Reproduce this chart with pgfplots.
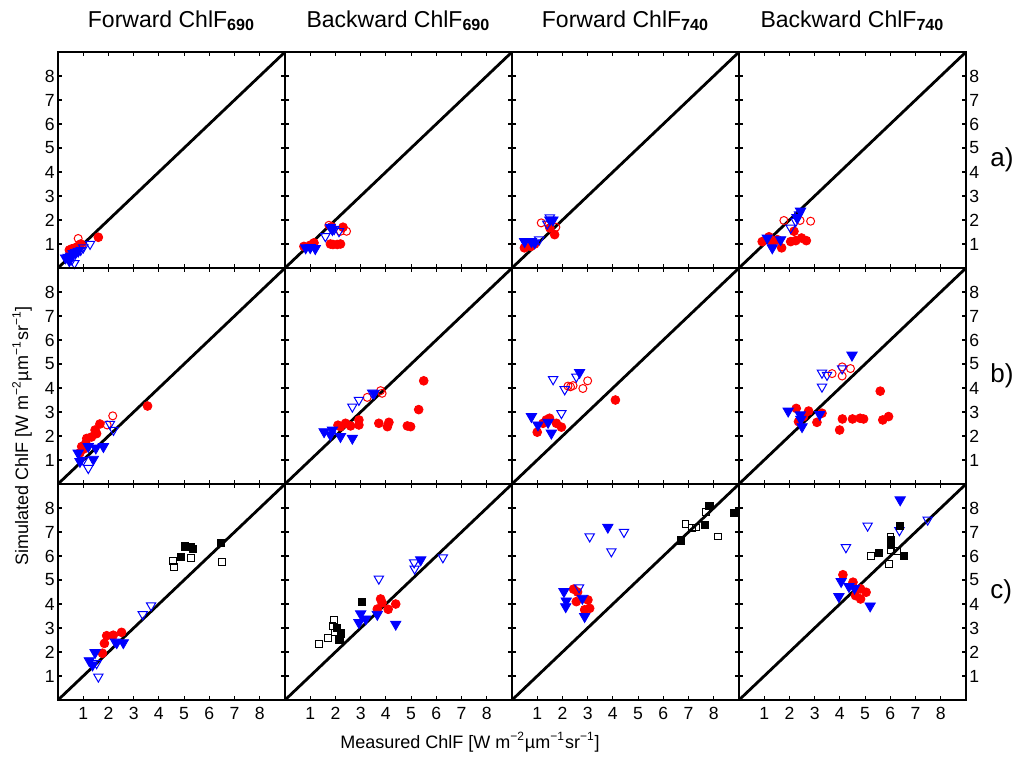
\documentclass[border=0pt]{standalone}
\usepackage{fontspec}
\setmainfont{Liberation Sans}
\usepackage{pgfplots}
\pgfplotsset{compat=1.18}
\usepgfplotslibrary{groupplots}

\pgfplotsset{
  panel/.style={
    scale only axis, width=113.5pt, height=108pt,
    xmin=0, xmax=9, ymin=0, ymax=9,
    xtick={1,...,8}, ytick={1,...,8},
    tick align=inside, major tick length=2pt,
    axis line style={line width=0.9pt},
    every tick/.style={black, line width=0.6pt},
    ticklabel style={font=\fontsize{8.8}{10}\selectfont},
    yticklabel style={inner sep=1.5pt},
    /pgf/number format/assume math mode=true,
    title style={font=\fontsize{11.5}{13}\selectfont, yshift=1pt},
  },
  noy/.style={yticklabels={}},
  righty/.style={yticklabel pos=right},
  diag/.style={black, line width=1.4pt, forget plot},
  rf/.style={only marks, red, mark=*, mark size=2.2pt, mark options={fill=red}},
  ro/.style={only marks, red, mark=o, mark size=2pt, mark options={line width=0.5pt}},
  bf/.style={only marks, blue, mark=triangle*, mark size=3pt, mark options={rotate=180, fill=blue}},
  bo/.style={only marks, blue, mark=triangle, mark size=2.7pt, mark options={rotate=180, line width=0.5pt}},
  kf/.style={only marks, black, mark=square*, mark size=1.8pt, mark options={fill=black}},
  ko/.style={only marks, black, mark=square, mark size=1.7pt, mark options={line width=0.5pt}},
}

\newcommand{\sub}[1]{\textsubscript{\textbf{#1}}}
\newcommand{\unitstr}{[W m\textsuperscript{−2}µm\textsuperscript{−1}sr\textsuperscript{−1}]}

\begin{document}
\begin{tikzpicture}
\begin{groupplot}[
  group style={group size=4 by 3, horizontal sep=0pt, vertical sep=0pt,
    xticklabels at=edge bottom},
  panel,
]
% ---- row a ----
\nextgroupplot[title={Forward ChlF\sub{690}}]
\addplot[diag] coordinates {(0,0) (9,9)};
\addplot[rf] coordinates {(0.45,0.75) (0.55,0.8) (0.7,0.85) (0.8,0.9) (0.9,1.0) (0.75,0.7) (0.6,0.65) (0.85,0.95) (1.6,1.28)};
\addplot[ro] coordinates {(0.8,1.23) (0.95,0.95)};
\addplot[bf] coordinates {(0.3,0.42) (0.4,0.45) (0.5,0.5) (0.6,0.6) (0.7,0.65) (0.45,0.3) (0.8,0.7)};
\addplot[bo] coordinates {(1.27,1.0) (0.65,0.2) (0.9,0.75) (0.55,0.35) (1.0,0.85)};

\nextgroupplot[title={Backward ChlF\sub{690}}, noy]
\addplot[diag] coordinates {(0,0) (9,9)};
\addplot[rf] coordinates {(0.75,0.9) (1.0,0.95) (1.15,1.05) (1.8,1.0) (1.9,0.98) (2.07,0.98) (2.2,1.0) (2.3,1.7) (1.85,1.72)};
\addplot[ro] coordinates {(1.74,1.78) (2.44,1.53) (2.2,1.53)};
\addplot[bf] coordinates {(0.82,0.84) (1.0,0.85) (1.2,0.81) (1.88,1.6) (1.8,1.7)};
\addplot[bo] coordinates {(1.6,1.32) (2.14,1.53) (1.95,1.62)};

\nextgroupplot[title={Forward ChlF\sub{740}}, noy]
\addplot[diag] coordinates {(0,0) (9,9)};
\addplot[rf] coordinates {(0.49,0.84) (0.75,0.9) (0.9,1.0) (1.69,1.39) (1.5,1.67)};
\addplot[ro] coordinates {(1.16,1.88) (1.74,1.7) (1.45,1.8)};
\addplot[bf] coordinates {(0.5,1.1) (0.77,1.1) (0.9,1.05) (1.5,2.0) (1.62,2.0)};
\addplot[bo] coordinates {(1.08,1.18) (1.4,1.84) (1.5,2.1)};

\nextgroupplot[title={Backward ChlF\sub{740}}, righty]
\addplot[diag] coordinates {(0,0) (9,9)};
\addplot[rf] coordinates {(0.92,1.1) (1.19,1.3) (1.32,1.05) (1.69,0.84) (2.05,1.1) (2.25,1.14) (2.48,1.25) (2.67,1.14) (2.18,1.53) (1.52,1.18)};
\addplot[ro] coordinates {(1.78,1.98) (2.42,1.98) (2.84,1.95)};
\addplot[bf] coordinates {(1.12,1.25) (1.32,0.84) (1.65,1.18) (2.44,2.37) (2.3,2.1)};
\addplot[bo] coordinates {(2.05,1.67) (2.25,1.95) (2.38,2.23)};

% ---- row b ----
\nextgroupplot
\addplot[diag] coordinates {(0,0) (9,9)};
\addplot[rf] coordinates {(3.55,3.25) (1.66,2.5) (1.47,2.25) (1.14,1.9) (0.94,1.56) (0.87,1.3) (1.0,1.45) (1.33,1.96) (1.53,2.1) (1.1,1.7)};
\addplot[ro] coordinates {(2.17,2.84) (1.95,2.46)};
\addplot[bf] coordinates {(0.8,1.29) (0.87,0.94) (1.4,1.03) (1.8,1.56) (1.2,1.56) (1.5,1.5)};
\addplot[bo] coordinates {(1.2,0.66) (2.06,2.5) (2.2,2.25) (1.0,1.0)};

\nextgroupplot[noy]
\addplot[diag] coordinates {(0,0) (9,9)};
\addplot[rf] coordinates {(5.5,4.3) (5.3,3.1) (4.98,2.39) (4.85,2.42) (4.12,2.57) (4.06,2.39) (3.72,2.53) (2.93,2.67) (2.93,2.46) (2.6,2.42) (2.4,2.53) (2.2,2.39) (2.1,2.45)};
\addplot[ro] coordinates {(3.79,3.89) (3.85,3.78) (3.26,3.61)};
\addplot[bf] coordinates {(1.55,2.18) (1.88,2.25) (2.2,1.98) (2.67,1.91) (1.8,2.05) (3.53,3.78)};
\addplot[bo] coordinates {(2.67,3.22) (2.93,3.5) (3.46,3.8)};

\nextgroupplot[noy]
\addplot[diag] coordinates {(0,0) (9,9)};
\addplot[rf] coordinates {(4.1,3.5) (1.0,2.16) (1.23,2.53) (1.49,2.74) (1.76,2.53) (1.96,2.37) (1.36,2.67)};
\addplot[ro] coordinates {(2.22,4.08) (2.42,4.1) (2.81,3.98) (3.0,4.3) (2.32,4.05)};
\addplot[bf] coordinates {(0.77,2.81) (1.03,2.46) (1.43,2.57) (1.56,2.12) (2.68,4.65)};
\addplot[bo] coordinates {(1.63,4.36) (2.09,3.94) (2.55,4.47) (1.96,2.95)};

\nextgroupplot[righty]
\addplot[diag] coordinates {(0,0) (9,9)};
\addplot[rf] coordinates {(5.6,3.87) (5.93,2.81) (5.7,2.67) (4.94,2.71) (4.8,2.74) (4.5,2.71) (4.1,2.71) (3.99,2.25) (3.09,2.57) (3.29,2.95) (2.76,3.04) (2.27,3.15) (2.36,2.6) (2.56,2.81)};
\addplot[ro] coordinates {(3.69,4.6) (4.09,4.88) (4.42,4.81) (4.09,4.5)};
\addplot[bf] coordinates {(4.48,5.37) (1.95,3.04) (2.43,2.88) (2.5,2.39) (3.2,2.9) (2.45,2.7)};
\addplot[bo] coordinates {(3.29,4.05) (3.29,4.63) (3.49,4.54) (4.09,4.81)};

% ---- row c ----
\nextgroupplot
\addplot[diag] coordinates {(0,0) (9,9)};
\addplot[rf] coordinates {(1.93,2.68) (2.19,2.7) (2.52,2.82) (1.84,2.36) (1.76,1.95)};
\addplot[bf] coordinates {(1.24,1.64) (1.47,1.98) (1.37,1.46) (2.33,2.39) (2.59,2.39)};
\addplot[bo] coordinates {(1.6,0.97) (1.53,1.53) (3.36,3.57) (3.69,3.94) (2.26,2.43)};
\addplot[kf] coordinates {(5.03,6.4) (4.87,5.96) (5.27,6.38) (5.34,6.3) (6.46,6.54)};
\addplot[ko] coordinates {(4.57,5.8) (4.6,5.54) (5.26,5.91) (6.49,5.74)};

\nextgroupplot[noy]
\addplot[diag] coordinates {(0,0) (9,9)};
\addplot[rf] coordinates {(3.79,4.21) (4.39,4.0) (4.09,3.78) (3.66,3.79) (3.85,4.05)};
\addplot[bf] coordinates {(3.0,3.59) (2.93,3.23) (3.2,3.38) (3.66,3.57) (4.39,3.16) (5.38,5.84)};
\addplot[bo] coordinates {(3.72,5.05) (5.12,5.73) (5.14,5.47) (6.26,5.94)};
\addplot[kf] coordinates {(3.04,4.1) (2.07,3.02) (2.23,2.78) (2.16,2.5)};
\addplot[ko] coordinates {(1.35,2.35) (1.72,2.6) (1.94,3.34) (1.88,3.1) (1.97,2.81)};

\nextgroupplot[noy]
\addplot[diag] coordinates {(0,0) (9,9)};
\addplot[rf] coordinates {(2.44,4.62) (2.55,4.1) (3.01,4.17) (3.08,3.82) (2.88,3.76) (2.6,4.5)};
\addplot[bf] coordinates {(2.06,4.52) (2.15,4.13) (2.13,3.89) (2.79,4.24) (2.88,3.48) (3.8,7.2)};
\addplot[bo] coordinates {(2.66,4.69) (3.08,6.81) (4.44,7.0) (3.94,6.19)};
\addplot[kf] coordinates {(6.71,6.65) (7.64,7.3) (7.83,8.09) (8.8,7.79)};
\addplot[ko] coordinates {(6.88,7.33) (7.15,7.16) (7.28,7.19) (7.7,7.83) (8.16,6.81)};

\nextgroupplot[righty]
\addplot[diag] coordinates {(0,0) (9,9)};
\addplot[rf] coordinates {(4.12,5.22) (4.52,4.91) (4.82,4.63) (5.04,4.49) (4.62,4.35) (4.82,4.21)};
\addplot[bf] coordinates {(6.39,8.34) (4.05,4.94) (3.96,4.31) (4.36,4.73) (4.58,4.66) (5.2,3.92)};
\addplot[bo] coordinates {(4.24,6.36) (5.1,7.26) (6.36,7.07) (7.48,7.51)};
\addplot[kf] coordinates {(6.39,7.26) (6.01,6.47) (5.55,6.12) (6.54,6.01) (6.03,6.68)};
\addplot[ko] coordinates {(5.24,6.01) (5.94,5.66) (6.03,6.26) (6.26,6.22) (6.01,6.78)};
\end{groupplot}
\tikzset{rowlab/.style={anchor=west, inner sep=0pt, font=\fontsize{13}{15}\selectfont, xshift=12pt}}
\node[rowlab] at (group c4r1.east) {a)};
\node[rowlab] at (group c4r2.east) {b)};
\node[rowlab] at (group c4r3.east) {c)};
\node[anchor=north, inner sep=0pt, font=\fontsize{9}{11}\selectfont, xshift=-21pt, yshift=-16pt] at (group c2r3.south east) {Measured ChlF \unitstr};
\node[rotate=90, anchor=center, inner sep=0pt, font=\fontsize{9}{11}\selectfont, xshift=24pt, yshift=18pt] at (group c1r2.south west) {Simulated ChlF \unitstr};
\pgfresetboundingbox
\path[use as bounding box] ([xshift=-29pt, yshift=-28pt]group c1r3.south west) rectangle ([xshift=25.5pt, yshift=26pt]group c4r1.north east);
\end{tikzpicture}
\end{document}
